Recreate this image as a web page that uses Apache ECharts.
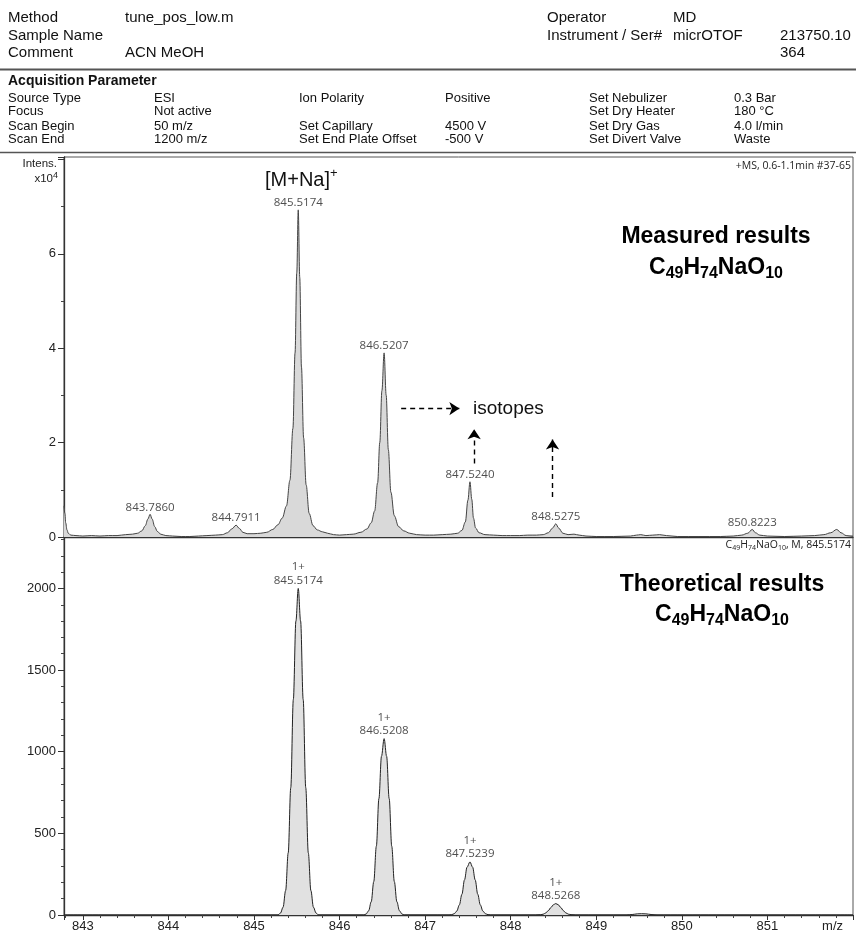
<!DOCTYPE html>
<html><head><meta charset="utf-8">
<script src="https://cdn.jsdelivr.net/npm/echarts@6/dist/echarts.min.js"></script>
<style>html,body{margin:0;padding:0;background:#fff}#c{width:856px;height:932px}</style>
</head><body><div id="c"></div><script>
// ---------- measured spectrum (intensity in x10^4) ----------
const measuredMz = [842.78,842.79,842.80,842.815,842.83,842.86,842.92,843.00,843.10,843.20,843.30,843.40,843.50,843.58,843.64,843.69,843.73,843.76,843.786,843.81,843.84,843.87,843.91,843.97,844.05,844.15,844.25,844.35,844.45,844.55,844.63,844.69,844.74,844.7911,844.83,844.87,844.92,845.00,845.08,845.15,845.22,845.28,845.33,845.38,845.42,845.455,845.48,845.50,845.5174,845.535,845.555,845.58,845.61,845.645,845.69,845.74,845.80,845.86,845.93,846.00,846.08,846.16,846.25,846.32,846.37,846.41,846.445,846.47,846.495,846.5207,846.545,846.57,846.60,846.64,846.69,846.75,846.82,846.90,847.00,847.10,847.20,847.30,847.38,847.43,847.47,847.50,847.524,847.545,847.565,847.59,847.63,847.70,847.80,847.90,848.00,848.10,848.20,848.30,848.38,848.44,848.49,848.5275,848.56,848.61,848.67,848.74,848.80,848.88,849.00,849.20,849.40,849.47,849.52,849.58,849.66,849.74,849.82,849.95,850.20,850.45,850.60,850.70,850.77,850.8223,850.86,850.91,851.00,851.20,851.40,851.55,851.66,851.74,851.81,851.86,851.92,852.00];
const measuredInt = [0.66,0.50,0.30,0.15,0.08,0.04,0.03,0.02,0.03,0.02,0.03,0.03,0.05,0.06,0.08,0.13,0.24,0.38,0.48,0.38,0.22,0.12,0.06,0.03,0.02,0.01,0.01,0.02,0.03,0.04,0.05,0.09,0.17,0.25,0.18,0.10,0.07,0.07,0.08,0.10,0.16,0.26,0.40,0.66,1.2,2.3,3.9,5.6,6.93,5.5,3.6,2.1,1.1,0.50,0.24,0.15,0.11,0.08,0.05,0.04,0.05,0.06,0.10,0.17,0.30,0.55,1.15,2.0,3.1,3.90,3.0,1.85,0.95,0.45,0.22,0.13,0.08,0.05,0.04,0.04,0.05,0.06,0.08,0.14,0.32,0.78,1.17,0.80,0.40,0.19,0.09,0.05,0.04,0.03,0.03,0.03,0.04,0.04,0.05,0.09,0.19,0.28,0.19,0.08,0.05,0.06,0.04,0.02,0.01,0.01,0.02,0.04,0.05,0.03,0.04,0.05,0.03,0.01,0.01,0.01,0.02,0.04,0.08,0.16,0.09,0.04,0.02,0.01,0.02,0.03,0.05,0.09,0.16,0.09,0.03,0.02];
const measuredPeakMz = [843.7860, 844.7911, 845.5174, 846.5207, 847.5240, 848.5275, 850.8223];
const measuredPeakInt = [0.48, 0.25, 6.93, 3.90, 1.17, 0.28, 0.16];

// ---------- theoretical spectrum ----------
const theoMz = [842.78,845.28,845.31,845.34,845.37,845.40,845.43,845.46,845.49,845.5174,845.545,845.575,845.605,845.635,845.665,845.695,845.725,845.755,846.28,846.31,846.34,846.37,846.40,846.43,846.46,846.49,846.5208,846.55,846.58,846.61,846.64,846.67,846.70,846.73,846.76,847.28,847.31,847.34,847.37,847.40,847.43,847.46,847.49,847.5239,847.555,847.585,847.615,847.645,847.675,847.705,847.735,847.765,848.29,848.35,848.38,848.41,848.44,848.47,848.50,848.5268,848.555,848.585,848.615,848.645,848.675,848.705,848.76,849.35,849.42,849.48,849.53,849.58,849.64,849.71,852.0];
const theoInt = [0,0,12,48,150,380,780,1320,1800,2000,1800,1320,780,380,150,48,12,0,0,6,26,81,205,421,713,972,1080,972,713,421,205,81,26,6,0,0,2,8,24,62,127,215,293,325,293,215,127,62,24,8,2,0,0,2,5,13,27,46,63,70,63,46,27,13,5,2,0,0,3,7,8,7,3,0,0];
const theoPeakMz = [845.5174, 846.5208, 847.5239, 848.5268];
const theoPeakInt = [2000, 1080, 325, 70];
const theoCharge = ['1+', '1+', '1+', '1+'];

// ---------- isotope arrows (data coords) ----------
const arrowFrom = [[846.72, 2.72], [847.573, 1.556], [848.489, 0.848]];
const arrowTo   = [[847.40, 2.72], [847.573, 2.28], [848.489, 2.066]];

// ---------- axes ----------
const xMin = 842.78, xMax = 852.0;
const topYMax = 8.05, botYMax = 2315;

const chart = echarts.init(document.getElementById('c'), null, {renderer: 'canvas'});
const AR = 'Liberation Sans, Arial, sans-serif';
const LB = 'Open Sans, DejaVu Sans, sans-serif';

function T(text, x, y, size, opts) {
  opts = opts || {};
  return {type: 'text', x: x, y: y, silent: true, z: 100,
    style: {text: text, fontSize: size, fontFamily: opts.family || AR, fontWeight: opts.weight || 'normal',
      fill: opts.color || '#111', textAlign: opts.align || 'left', textVerticalAlign: 'middle', rich: opts.rich}};
}
function L(x1, y1, x2, y2, w, c) {
  return {type: 'line', silent: true, z: 100, shape: {x1: x1, y1: y1, x2: x2, y2: y2}, style: {stroke: c, lineWidth: w}};
}
const formulaRich = (big, small, weight, fam, color) => ({
  b: {fontSize: big, fontWeight: weight, fontFamily: fam, fill: color, lineHeight: big + 5, verticalAlign: 'middle'},
  s: {fontSize: small, fontWeight: weight, fontFamily: fam, fill: color, lineHeight: small - 3, verticalAlign: 'bottom'}
});

const graphics = [
  // header
  T('Method', 8, 18, 15), T('tune_pos_low.m', 125, 18, 15),
  T('Sample Name', 8, 35.5, 15),
  T('Comment', 8, 53, 15), T('ACN MeOH', 125, 53, 15),
  T('Operator', 547, 18, 15), T('MD', 673, 18, 15),
  T('Instrument / Ser#', 547, 35.5, 15), T('micrOTOF', 673, 35.5, 15), T('213750.10', 780, 35.5, 15),
  T('364', 780, 53, 15),
  L(0, 69.5, 856, 69.5, 2, '#555'),
  T('Acquisition Parameter', 8, 81, 14, {weight: 'bold'}),
  T('Source Type', 8, 98, 13), T('ESI', 154, 98, 13), T('Ion Polarity', 299, 98, 13), T('Positive', 445, 98, 13),
  T('Set Nebulizer', 589, 98, 13), T('0.3 Bar', 734, 98, 13),
  T('Focus', 8, 111.5, 13), T('Not active', 154, 111.5, 13), T('Set Dry Heater', 589, 111.5, 13), T('180 °C', 734, 111.5, 13),
  T('Scan Begin', 8, 126, 13), T('50 m/z', 154, 126, 13), T('Set Capillary', 299, 126, 13), T('4500 V', 445, 126, 13),
  T('Set Dry Gas', 589, 126, 13), T('4.0 l/min', 734, 126, 13),
  T('Scan End', 8, 139.5, 13), T('1200 m/z', 154, 139.5, 13), T('Set End Plate Offset', 299, 139.5, 13), T('-500 V', 445, 139.5, 13),
  T('Set Divert Valve', 589, 139.5, 13), T('Waste', 734, 139.5, 13),
  L(0, 152.5, 856, 152.5, 1.5, '#555'),
  // axis title
  T('Intens.', 57, 164, 11.5, {align: 'right', color: '#222'}),
  T('{n|x10}{p|4}', 58, 178, 11.5, {align: 'right', rich: {
    n: {fontSize: 11.5, fontFamily: AR, fill: '#222', lineHeight: 14, verticalAlign: 'bottom'},
    p: {fontSize: 9, fontFamily: AR, fill: '#222', lineHeight: 10, verticalAlign: 'top'}}}),
  T('m/z', 843, 926, 13, {align: 'right', color: '#222'}),
  // small info texts
  T('+MS, 0.6-1.1min #37-65', 851, 166, 10.5, {align: 'right', family: LB, color: '#222'}),
  T('{n|C}{s|49}{n|H}{s|74}{n|NaO}{s|10}{n|, M, 845.5174}', 851, 545, 10.5, {align: 'right', rich: {
    n: {fontSize: 10.5, fontFamily: LB, fill: '#222', lineHeight: 13, verticalAlign: 'middle'},
    s: {fontSize: 7, fontFamily: LB, fill: '#222', lineHeight: 6, verticalAlign: 'bottom'}}}),
  // annotations
  T('{a|[M+Na]}{p|+}', 265, 180, 20, {rich: {
    a: {fontSize: 20, fontFamily: AR, fill: '#111', lineHeight: 26, verticalAlign: 'middle'},
    p: {fontSize: 13, fontFamily: AR, fill: '#111', lineHeight: 12, verticalAlign: 'top'}}}),
  T('isotopes', 473, 409, 19, {color: '#111'}),
  T('Measured results', 716, 237, 23, {align: 'center', weight: 'bold', color: '#000'}),
  T('{b|C}{s|49}{b|H}{s|74}{b|NaO}{s|10}', 716, 268, 23, {align: 'center', rich: formulaRich(23, 16, 'bold', AR, '#000')}),
  T('Theoretical results', 722, 585, 23, {align: 'center', weight: 'bold', color: '#000'}),
  T('{b|C}{s|49}{b|H}{s|74}{b|NaO}{s|10}', 722, 615, 23, {align: 'center', rich: formulaRich(23, 16, 'bold', AR, '#000')})
];

const axisLineStyle = {color: '#333', width: 1.3};
const option = {
  backgroundColor: '#fff',
  animation: false,
  textStyle: {fontFamily: AR},
  grid: [
    {left: 64, top: 157, width: 789, height: 380, show: true, borderColor: '#555', borderWidth: 1, outerBoundsMode: 'none', containLabel: false},
    {left: 64, top: 537, width: 789, height: 378, show: true, borderColor: '#555', borderWidth: 1, outerBoundsMode: 'none', containLabel: false}
  ],
  xAxis: [
    {type: 'value', gridIndex: 0, min: xMin, max: xMax, splitNumber: 9, minInterval: 1, maxInterval: 1,
      axisLine: {show: true, lineStyle: axisLineStyle}, axisTick: {show: false}, axisLabel: {show: false}, splitLine: {show: false}},
    {type: 'value', gridIndex: 1, min: xMin, max: xMax, splitNumber: 9, minInterval: 1, maxInterval: 1,
      axisLine: {show: true, onZero: false, lineStyle: axisLineStyle},
      axisTick: {show: true, length: 5, lineStyle: {color: '#333'}},
      minorTick: {show: true, splitNumber: 5, length: 3, lineStyle: {color: '#444'}},
      splitLine: {show: false},
      axisLabel: {show: true, margin: 5, fontSize: 13, color: '#222', fontFamily: AR, showMinLabel: true, showMaxLabel: true,
        formatter: v => (Math.abs(v - Math.round(v)) < 1e-6 && v < xMax - 0.01) ? String(Math.round(v)) : ''}}
  ],
  yAxis: [
    {type: 'value', gridIndex: 0, min: 0, max: topYMax, interval: 2,
      axisLine: {show: true, lineStyle: axisLineStyle},
      axisTick: {show: true, length: 6, lineStyle: {color: '#333'}},
      minorTick: {show: true, splitNumber: 2, length: 3, lineStyle: {color: '#444'}},
      splitLine: {show: false},
      axisLabel: {margin: 8, fontSize: 13, color: '#222', fontFamily: AR, formatter: v => (v <= 6 && v % 2 === 0) ? String(v) : ''}},
    {type: 'value', gridIndex: 1, min: 0, max: botYMax, interval: 500,
      axisLine: {show: true, lineStyle: axisLineStyle},
      axisTick: {show: true, length: 6, lineStyle: {color: '#333'}},
      minorTick: {show: true, splitNumber: 5, length: 3, lineStyle: {color: '#444'}},
      splitLine: {show: false},
      axisLabel: {margin: 8, fontSize: 13, color: '#222', fontFamily: AR, formatter: v => (v <= 2000 && v % 500 === 0) ? String(v) : ''}}
  ],
  series: [
    {type: 'line', name: 'measured', xAxisIndex: 0, yAxisIndex: 0, silent: true,
      data: measuredMz.map((m, i) => [m, measuredInt[i]]),
      symbol: 'none', smooth: 0.35, smoothMonotone: 'x',
      lineStyle: {color: '#444', width: 1}, areaStyle: {color: '#d9d9d9', opacity: 1},
      markLine: {silent: true, animation: false, symbol: ['none', 'arrow'], symbolSize: 10,
        lineStyle: {color: '#000', width: 1.4, type: [5, 4]}, label: {show: false},
        data: arrowFrom.map((f, i) => [{coord: f}, {coord: arrowTo[i]}])}},
    {type: 'scatter', xAxisIndex: 0, yAxisIndex: 0, silent: true, symbolSize: 0,
      data: measuredPeakMz.map((m, i) => [m, measuredPeakInt[i]]),
      label: {show: true, position: 'top', distance: 1, fontFamily: LB, fontSize: 11.5, color: '#222',
        formatter: p => p.data[0].toFixed(4)}},
    {type: 'line', name: 'theoretical', xAxisIndex: 1, yAxisIndex: 1, silent: true,
      data: theoMz.map((m, i) => [m, theoInt[i]]),
      symbol: 'none', smooth: 0.35, smoothMonotone: 'x',
      lineStyle: {color: '#222', width: 1}, areaStyle: {color: '#e1e1e1', opacity: 1}},
    {type: 'bar', xAxisIndex: 1, yAxisIndex: 1, silent: true, barWidth: 1,
      data: theoPeakMz.map((m, i) => [m, theoPeakInt[i] * 0.98]),
      itemStyle: {color: '#bcbcbc'}},
    {type: 'scatter', xAxisIndex: 1, yAxisIndex: 1, silent: true, symbolSize: 0,
      data: theoPeakMz.map((m, i) => [m, theoPeakInt[i]]),
      label: {show: true, position: 'top', distance: 1, fontFamily: LB, fontSize: 11.5, color: '#222', lineHeight: 13.5,
        formatter: p => theoCharge[p.dataIndex] + '\n' + p.data[0].toFixed(4)}}
  ],
  graphic: graphics
};
chart.setOption(option);
</script></body></html>
